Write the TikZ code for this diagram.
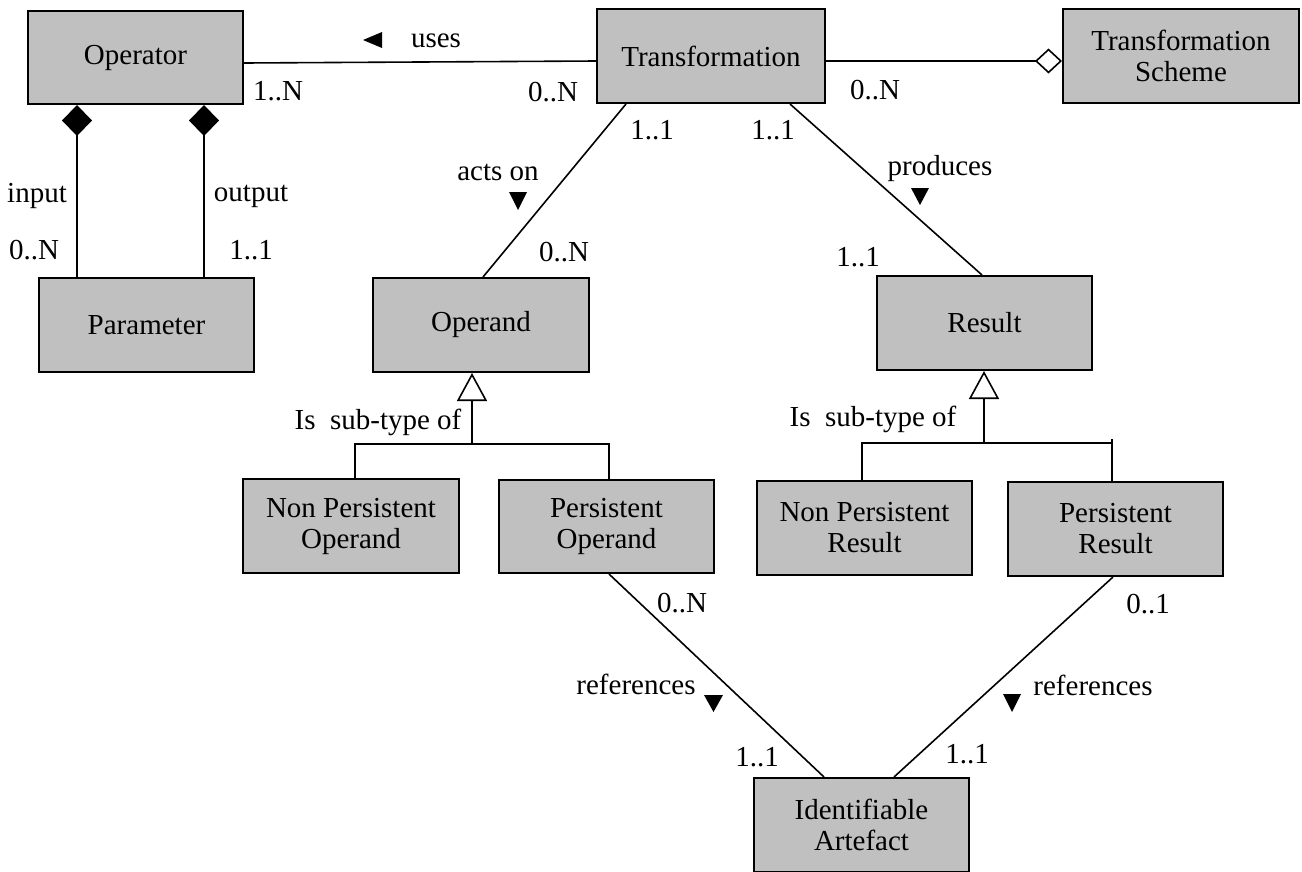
\documentclass[tikz,border=0pt]{standalone}
\usepackage{fontspec}
\setmainfont{Liberation Serif}
\usetikzlibrary{arrows.meta}
\definecolor{boxgray}{RGB}{192,192,192}
\newcommand\dgfont{\fontsize{29}{31}\selectfont}
\tikzset{
  cls/.style={draw, line width=2pt, fill=boxgray, inner sep=0pt, align=center,
              font=\dgfont, minimum width=215pt, minimum height=94pt},
  lbl/.style={inner sep=0pt, font=\dgfont},
  conn/.style={line width=1.6pt},
  dirtri/.style={fill=black},
  compos/.style={-{Diamond[length=31pt, width=30pt]}},
  aggreg/.style={-{Diamond[open, length=27pt, width=25pt]}},
  generalize/.style={-{Triangle[open, length=28pt, width=30pt]}}
}
\begin{document}
\begin{tikzpicture}[x=1pt, y=-1pt]
\useasboundingbox (0,0) rectangle (1302,871);
\clip (0,0) rectangle (1302,871);

% classes
\node[cls, minimum height=93pt] (op) at (135.5,57.5) {Operator};
\node[cls, minimum width=228pt] (tr) at (711,56) {Transformation};
\node[cls, minimum width=236pt] (ts) at (1181,56) {Transformation\\Scheme};
\node[cls] (par) at (146.5,325) {Parameter};
\node[cls, minimum width=216pt] (opd) at (481,325) {Operand};
\node[cls] (res) at (984.5,323) {Result};
\node[cls, minimum width=216pt] (npo) at (351,526) {Non Persistent\\Operand};
\node[cls, minimum height=93pt] (po) at (606.5,526.5) {Persistent\\Operand};
\node[cls] (npr) at (864.5,528) {Non Persistent\\Result};
\node[cls] (pr) at (1115.5,529) {Persistent\\Result};
\node[cls] (ia) at (861.5,825) {Identifiable\\Artefact};

% Operator -- Transformation
\draw[conn] ([yshift=-5.5pt]op.east) -- ([yshift=-5pt]tr.west);
\node[lbl] (usesl) at (436,41) {uses};
\fill[dirtri] (363,40) -- (382,32) -- (382,48) -- cycle;
\node[lbl] (m1) at (278,91) {1..N};
\node[lbl] (m2) at (553,92) {0..N};

% Transformation -- Transformation Scheme (aggregation)
\draw[conn, aggreg] ([yshift=-5pt]tr.east) -- ([yshift=-5pt]ts.west);
\node[lbl] (m3) at (875,90) {0..N};

% Operator -- Parameter (composition)
\coordinate (pin) at ([xshift=-69.5pt]par.north);
\coordinate (pout) at ([xshift=57.5pt]par.north);
\draw[conn, compos] (pin) -- (pin |- op.south);
\draw[conn, compos] (pout) -- (pout |- op.south);
\node[lbl] (inl) at (37,196) {input};
\node[lbl] (outl) at (251,196) {output};
\node[lbl] (m4) at (34,250) {0..N};
\node[lbl] (m5) at (251,250) {1..1};

% Transformation -- Operand
\draw[conn] ([xshift=2pt]opd.north) -- ([xshift=-85pt]tr.south);
\node[lbl] (actsl) at (498,172) {acts on};
\fill[dirtri] (509,192) -- (527,192) -- (518,210) -- cycle;
\node[lbl] (m6) at (564,252) {0..N};
\node[lbl] (m7) at (652,130) {1..1};

% Transformation -- Result
\draw[conn] ([xshift=79pt]tr.south) -- ([xshift=-2.5pt]res.north);
\node[lbl] (prodl) at (940,169) {produces};
\fill[dirtri] (911,188) -- (929,188) -- (920,205) -- cycle;
\node[lbl] (m8) at (773,130) {1..1};
\node[lbl] (m9) at (858,257) {1..1};

% Operand sub-types
\coordinate (gop) at ([xshift=-9pt, yshift=-71pt]opd.south);
\draw[conn, generalize] (gop) -- (gop |- opd.south);
\draw[conn] ([xshift=4pt]npo.north) |- (gop) -| ([xshift=2.5pt]po.north);
\node[lbl] (subl1) at (378,422) {Is\ \ sub-type of};

% Result sub-types
\coordinate (gres) at ([xshift=-0.5pt, yshift=-72pt]res.south);
\draw[conn, generalize] (gres) -- (gres |- res.south);
\draw[conn] ([xshift=-2.5pt]npr.north) |- (gres) -| ([xshift=-3.5pt]pr.north);
\draw[conn] ([xshift=-3.5pt]pr.north) -- ([xshift=-3.5pt, yshift=42pt]pr.north);
\node[lbl] (subl2) at (873,419) {Is\ \ sub-type of};

% Persistent Operand -- Identifiable Artefact
\draw[conn] ([xshift=2.5pt]po.south) -- ([xshift=-37.5pt]ia.north);
\node[lbl] (m10) at (682,603) {0..N};
\node[lbl] (refl1) at (636,684) {references};
\fill[dirtri] (704,695) -- (723,695) -- (713.5,712) -- cycle;
\node[lbl] (m11) at (757,757) {1..1};

% Persistent Result -- Identifiable Artefact
\draw[conn] ([xshift=-2.5pt]pr.south) -- ([xshift=32.5pt]ia.north);
\node[lbl] (m12) at (1148,604) {0..1};
\node[lbl] (refl2) at (1093,685) {references};
\fill[dirtri] (1003,694) -- (1021,694) -- (1012,712) -- cycle;
\node[lbl] (m13) at (967,754) {1..1};
\end{tikzpicture}
\end{document}
